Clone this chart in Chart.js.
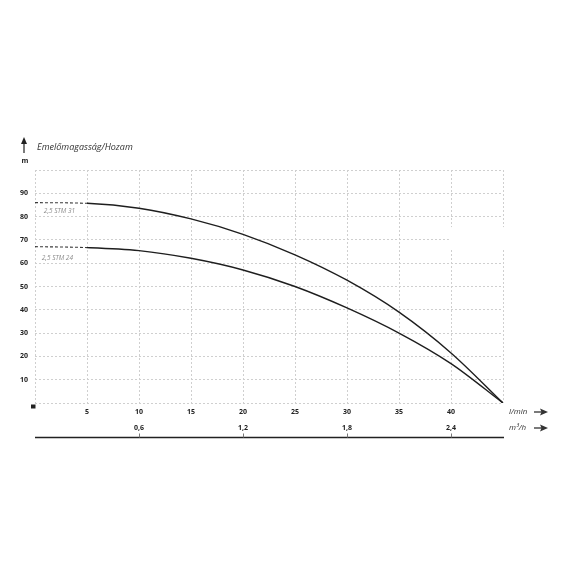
<!DOCTYPE html>
<html lang="hu">
<head>
<meta charset="UTF-8">
<title>Emelőmagasság/Hozam</title>
<script src="https://cdn.jsdelivr.net/npm/chart.js"></script>
<style>
  html, body { margin: 0; padding: 0; background: #fff; }
</style>
</head>
<body>
<canvas id="pumpChart" width="570" height="570"></canvas>
<script>
  // adatok
  const flow = [0, 5, 10, 15, 20, 25, 30, 35, 40, 45];          // l/min
  const stm31 = [86, 85.7, 83.6, 79, 72.4, 63.6, 52.7, 39, 21.5, 0];
  const stm24 = [67.1, 66.7, 65.4, 62.1, 57.1, 50, 40.8, 30, 16.9, 0];
  const seriesNames = ['2,5 STM 31', '2,5 STM 24'];
  const flowGrid = [0, 5, 10, 15, 20, 25, 30, 35, 40, 45];
  const flowLabels = [5, 10, 15, 20, 25, 30, 35, 40];
  const headLabels = [10, 20, 30, 40, 50, 60, 70, 80, 90];
  const m3hTicks = [0.6, 1.2, 1.8, 2.4];
  const dashedUntil = 5;

  const gridColor = '#cfcfcf';
  const lineColor = '#1e1e1e';

  function arrowRight(ctx, x, y) {
    ctx.beginPath();
    ctx.moveTo(x, y);
    ctx.lineTo(x + 8, y);
    ctx.stroke();
    ctx.beginPath();
    ctx.moveTo(x + 14, y);
    ctx.lineTo(x + 6, y - 3.5);
    ctx.lineTo(x + 7.5, y);
    ctx.lineTo(x + 6, y + 3.5);
    ctx.closePath();
    ctx.fill();
  }

  const extras = {
    id: 'extras',
    beforeDatasetsDraw(chart) {
      const { ctx, scales: { x, y }, chartArea } = chart;
      // fehér folt a rács jobb oldalán
      ctx.save();
      ctx.fillStyle = '#fff';
      const bx = x.getPixelForValue(39.8);
      const by = y.getPixelForValue(75.5);
      ctx.fillRect(bx, by, chartArea.right + 8 - bx, y.getPixelForValue(66) - by);
      ctx.restore();
    },
    afterDraw(chart) {
      const { ctx, scales: { x, y, x2 }, chartArea } = chart;
      const L = chartArea.left, R = chartArea.right;
      ctx.save();
      ctx.fillStyle = '#222';
      ctx.strokeStyle = '#222';
      ctx.lineWidth = 1.2;

      // függőleges nyíl + cím
      ctx.beginPath();
      ctx.moveTo(L - 11, chartArea.top - 17);
      ctx.lineTo(L - 11, chartArea.top - 29);
      ctx.stroke();
      ctx.beginPath();
      ctx.moveTo(L - 11, chartArea.top - 33);
      ctx.lineTo(L - 14, chartArea.top - 26);
      ctx.lineTo(L - 8, chartArea.top - 26);
      ctx.closePath();
      ctx.fill();

      ctx.font = 'italic 9px "Open Sans"';
      ctx.fillStyle = '#333';
      ctx.textBaseline = 'middle';
      ctx.textAlign = 'left';
      ctx.fillText('Emelőmagasság/Hozam', L + 2, chartArea.top - 23);

      ctx.font = 'bold 7px "Open Sans"';
      ctx.fillStyle = '#222';
      ctx.textAlign = 'center';
      ctx.fillText('m', L - 10, chartArea.top - 9);

      // origó jel
      ctx.fillRect(L - 4, chartArea.bottom + 1.5, 4.5, 4);

      // görbék neve
      ctx.font = 'italic 6.5px "Open Sans"';
      ctx.fillStyle = '#8a8a8a';
      ctx.textAlign = 'left';
      ctx.fillText(seriesNames[0], x.getPixelForValue(0.85), y.getPixelForValue(stm31[0]) + 9);
      ctx.fillText(seriesNames[1], x.getPixelForValue(0.65), y.getPixelForValue(stm24[0]) + 11);

      // mértékegységek
      ctx.font = 'italic 8px "Open Sans"';
      ctx.fillStyle = '#333';
      const y1 = x.top + 9;
      const y2 = x2.top + 8;
      ctx.fillText('l/min', R + 6, y1);
      ctx.fillText('m³/h', R + 6, y2);
      arrowRight(ctx, R + 31, y1);
      arrowRight(ctx, R + 31, y2);

      // második tengely vonala
      const base = x2.bottom - 0.5;
      ctx.lineWidth = 1.6;
      ctx.strokeStyle = '#222';
      ctx.beginPath();
      ctx.moveTo(L, base);
      ctx.lineTo(R + 1, base);
      ctx.stroke();
      ctx.lineWidth = 1;
      ctx.strokeStyle = '#777';
      m3hTicks.forEach(v => {
        const px = Math.round(x2.getPixelForValue(v)) + 0.5;
        ctx.beginPath();
        ctx.moveTo(px, base - 4);
        ctx.lineTo(px, base);
        ctx.stroke();
      });
      ctx.restore();
    }
  };

  const isDashed = c => c.p1.parsed.x <= dashedUntil;

  const makeSeries = (name, values) => ({
    label: name,
    data: flow.map((f, i) => ({ x: f, y: values[i] })),
    borderColor: lineColor,
    borderWidth: 1.4,
    pointRadius: 0,
    fill: false,
    cubicInterpolationMode: 'monotone',
    segment: {
      borderDash: c => (isDashed(c) ? [3, 2] : undefined),
      borderWidth: c => (isDashed(c) ? 1.1 : undefined),
      borderColor: c => (isDashed(c) ? '#3a3a3a' : undefined)
    }
  });

  new Chart(document.getElementById('pumpChart'), {
    type: 'line',
    data: {
      datasets: [makeSeries(seriesNames[0], stm31), makeSeries(seriesNames[1], stm24)]
    },
    options: {
      responsive: false,
      animation: false,
      layout: { padding: { top: 170, right: 67, bottom: 132, left: 0 } },
      plugins: { legend: { display: false }, tooltip: { enabled: false } },
      scales: {
        x: {
          type: 'linear',
          position: 'bottom',
          weight: 0,
          min: 0,
          max: 45,
          afterBuildTicks: s => { s.ticks = flowGrid.map(v => ({ value: v })); },
          afterFit: s => { s.height = 17; },
          grid: { color: gridColor, lineWidth: 1, drawTicks: false },
          border: { display: false, dash: [2, 2] },
          ticks: {
            padding: 5,
            color: '#222',
            font: { family: 'Open Sans', size: 7, weight: 'bold' },
            maxRotation: 0,
            callback: v => (flowLabels.includes(v) ? String(v) : '')
          }
        },
        x2: {
          type: 'linear',
          position: 'bottom',
          weight: 1,
          min: 0,
          max: 2.7,
          afterBuildTicks: s => { s.ticks = m3hTicks.map(v => ({ value: v })); },
          afterFit: s => { s.height = 18; },
          grid: { display: false, drawTicks: false },
          border: { display: false },
          ticks: {
            padding: 4,
            color: '#222',
            font: { family: 'Open Sans', size: 7, weight: 'bold' },
            maxRotation: 0,
            callback: v => v.toFixed(1).replace('.', ',')
          }
        },
        y: {
          min: 0,
          max: 100,
          afterFit: s => { s.width = 35; },
          grid: { color: gridColor, lineWidth: 1, drawTicks: false },
          border: { display: false, dash: [2, 2] },
          ticks: {
            stepSize: 10,
            padding: 7,
            color: '#222',
            font: { family: 'Open Sans', size: 7, weight: 'bold' },
            callback: v => (headLabels.includes(v) ? String(v) : '')
          }
        }
      }
    },
    plugins: [extras]
  });
</script>
</body>
</html>
